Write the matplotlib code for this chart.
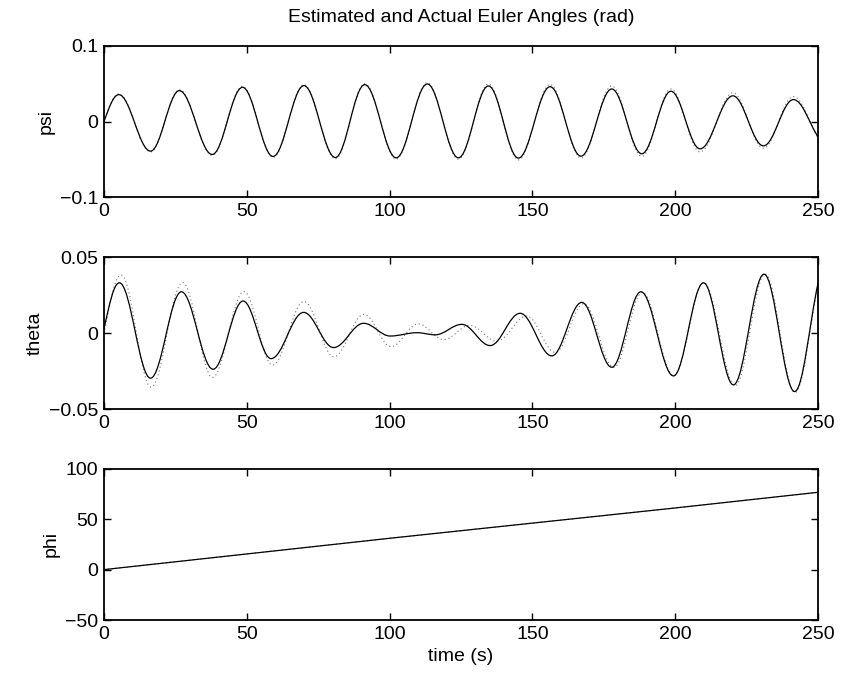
import numpy as np
import matplotlib
matplotlib.use("Agg")
import matplotlib.pyplot as plt
from matplotlib.path import Path
from matplotlib.patches import PathPatch

# valores (picos / vales de cada oscilacao)
psi_t = [0, 5.2, 16.3, 26.4, 37.9, 48.5, 59.2, 70.0, 81.0, 91.3, 102.3, 113.2, 124.1,
         134.6, 145.1, 156.2, 167.0, 177.8, 188.3, 198.5, 208.7, 220.2, 230.9, 241.4, 250]
psi_real = [0.0, 0.0355, -0.0390, 0.0408, -0.0434, 0.0452, -0.0460, 0.0474, -0.0474, 0.0487,
            -0.0478, 0.0496, -0.0478, 0.0470, -0.0482, 0.0460, -0.0456, 0.0430, -0.0425,
            0.0400, -0.0360, 0.0340, -0.0320, 0.0290, -0.0200]
psi_est = [0.0, 0.0365, -0.0400, 0.0420, -0.0445, 0.0465, -0.0472, 0.0487, -0.0490, 0.0500,
           -0.0495, 0.0512, -0.0495, 0.0495, -0.0505, 0.0490, -0.0480, 0.0470, -0.0460,
           0.0430, -0.0400, 0.0380, -0.0350, 0.0330, -0.0220]

theta_t = [0, 5.4, 16.3, 27.1, 38.2, 48.7, 58.5, 69.9, 80.4, 90.9, 100.2, 109.6, 116.0,
           125.3, 135.2, 145.7, 156.8, 167.3, 177.8, 188.0, 199.4, 209.9, 220.4, 231.1, 241.8, 250]
theta_real = [0.003, 0.0333, -0.0296, 0.0274, -0.0237, 0.0213, -0.0167, 0.0138, -0.0094,
              0.0066, -0.0018, 0.0004, -0.0010, 0.0059, -0.0081, 0.0132, -0.0149, 0.0204,
              -0.0224, 0.0274, -0.0281, 0.0333, -0.0340, 0.0390, -0.0384, 0.0330]

theta_est_t = [0, 6.0, 16.5, 27.5, 38.0, 49.0, 59.0, 70.0, 80.5, 91.0, 100.5, 110.0, 119.0,
               128.0, 137.5, 148.0, 158.0, 168.0, 178.5, 188.5, 199.5, 210.0, 221.0, 231.5, 242.0, 250]
theta_est = [0.0, 0.0385, -0.0355, 0.0335, -0.0290, 0.0275, -0.0210, 0.0210, -0.0155, 0.0125,
             -0.0088, 0.0062, -0.0042, 0.0053, -0.0052, 0.0114, -0.0125, 0.0195, -0.0225,
             0.0270, -0.0280, 0.0335, -0.0345, 0.0390, -0.0390, 0.0320]

phi_t = [0, 50, 100, 150, 200, 250]
phi_real = [0.0, 15.5, 31.0, 46.0, 61.0, 76.5]
phi_est = [0.0, 15.5, 31.0, 46.0, 61.0, 76.5]

x_ticks = [0, 50, 100, 150, 200, 250]
psi_ticks = [-0.1, 0, 0.1]
psi_labels = ["\u22120.1", "0", "0.1"]
theta_ticks = [-0.05, 0, 0.05]
theta_labels = ["\u22120.05", "0", "0.05"]
phi_ticks = [-50, 0, 50, 100]
phi_labels = ["\u221250", "0", "50", "100"]

plt.rcParams['font.family'] = ['Liberation Sans', 'DejaVu Sans']
plt.rcParams['font.size'] = 14


def curva(t, v, c=0.364):
    # curva de bezier pelos pontos lidos (tangente horizontal nos picos)
    t = np.asarray(t, dtype=float)
    v = np.asarray(v, dtype=float)
    m = np.zeros(len(t))
    m[0] = 1.5 * (v[1] - v[0]) / (t[1] - t[0])
    m[-1] = 1.0 * (v[-1] - v[-2]) / (t[-1] - t[-2])
    verts = [(t[0], v[0])]
    codes = [Path.MOVETO]
    for i in range(len(t) - 1):
        h = t[i + 1] - t[i]
        verts.append((t[i] + c * h, v[i] + m[i] * c * h))
        verts.append((t[i + 1] - c * h, v[i + 1] - m[i + 1] * c * h))
        verts.append((t[i + 1], v[i + 1]))
        codes += [Path.CURVE4] * 3
    return Path(verts, codes)


def estilo(ax, ticks, labels, lim, nome):
    ax.set_xlim(0, 250)
    ax.set_ylim(*lim)
    ax.set_xticks(x_ticks)
    ax.set_yticks(ticks)
    ax.set_yticklabels(labels)
    ax.set_ylabel(nome)
    ax.tick_params(direction='in', top=True, right=True, length=5, width=1, pad=4)
    for s in ax.spines.values():
        s.set_linewidth(1.3)


fig = plt.figure(figsize=(8.42, 6.83), dpi=100)
ax1 = fig.add_axes([0.1235, 0.711, 0.848, 0.222])
ax2 = fig.add_axes([0.1235, 0.401, 0.848, 0.222])
ax3 = fig.add_axes([0.1235, 0.092, 0.848, 0.222])

pontilhado = dict(fill=False, linestyle=(0, (1, 2.5)), lw=0.8, edgecolor='0.45')
solido = dict(fill=False, lw=0.9, edgecolor='black')

ax1.add_patch(PathPatch(curva(psi_t, psi_est), **pontilhado))
ax1.add_patch(PathPatch(curva(psi_t, psi_real), **solido))
estilo(ax1, psi_ticks, psi_labels, (-0.1, 0.1), "psi")
ax1.set_title("Estimated and Actual Euler Angles (rad)", fontsize=14, pad=17)

ax2.add_patch(PathPatch(curva(theta_est_t, theta_est), **pontilhado))
ax2.add_patch(PathPatch(curva(theta_t, theta_real), **solido))
estilo(ax2, theta_ticks, theta_labels, (-0.05, 0.05), "theta")

ax3.plot(phi_t, phi_est, linestyle=(0, (1, 2.5)), lw=0.8, color='0.45')
ax3.plot(phi_t, phi_real, lw=0.9, color='black')
estilo(ax3, phi_ticks, phi_labels, (-50, 100), "phi")
ax3.set_xlabel("time (s)")

fig.savefig("out.png", dpi=100)
